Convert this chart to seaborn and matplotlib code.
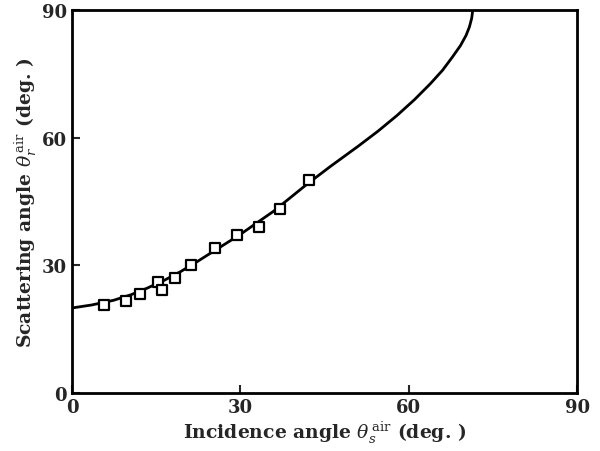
import numpy as np
import pandas as pd
import seaborn as sns
import matplotlib.pyplot as plt

# measured points (incidence, scattering), deg
inc_meas = [5.7, 9.6, 12.1, 15.4, 16.1, 18.3, 21.2, 25.5, 29.4, 33.4, 37.0, 42.3]
sca_meas = [20.6, 21.6, 23.2, 26.2, 24.3, 27.1, 30.1, 34.0, 37.2, 39.0, 43.3, 50.0]

# theory curve
inc_curve = [0, 3.5, 7.4, 10.5, 13.3, 16.3, 19.3, 22.2, 25.2, 29.9, 35.9, 41.8,
             46.0, 51.0, 54.5, 57.9, 61.0, 63.8, 66.0, 67.7, 69.2, 70.2, 70.8,
             71.2, 71.4]
sca_curve = [20.0, 20.7, 21.8, 23.1, 24.6, 26.4, 28.5, 30.8, 33.3, 37.2, 42.7, 49.0,
             53.2, 58.0, 61.5, 65.2, 68.9, 72.6, 75.8, 78.8, 81.6, 84.0, 86.0,
             88.0, 90.0]

ticks = [0, 30, 60, 90]

df_meas = pd.DataFrame({'inc': inc_meas, 'sca': sca_meas})
df_curve = pd.DataFrame({'inc': inc_curve, 'sca': sca_curve})

sns.set_style('ticks')
plt.rcParams['font.family'] = ['DejaVu Serif']
plt.rcParams['mathtext.fontset'] = 'dejavuserif'

fig = plt.figure(figsize=(6, 4.52), dpi=100)
ax = fig.add_axes([0.12, 0.128, 0.842, 0.848])

sns.lineplot(data=df_curve, x='inc', y='sca', sort=False, color='black', lw=2, ax=ax)
sns.scatterplot(data=df_meas, x='inc', y='sca', marker='s', s=55, facecolor='white',
                edgecolor='black', linewidth=1.6, zorder=3, ax=ax)

ax.set_xlim(0, 90)
ax.set_ylim(0, 90)
ax.set_xticks(ticks)
ax.set_yticks(ticks)
ax.tick_params(direction='in', length=6, width=1.5, labelsize=13)
for lab in ax.get_xticklabels() + ax.get_yticklabels():
    lab.set_fontweight('bold')
for sp in ax.spines.values():
    sp.set_linewidth(2)
    sp.set_color('black')

ax.set_xlabel(r'Incidence angle $\theta_s^{\,\mathrm{air}}$ (deg. )', fontsize=13.5,
              fontweight='bold', labelpad=2)
ax.set_ylabel(r'Scattering angle $\theta_r^{\,\mathrm{air}}$ (deg. )', fontsize=13.5,
              fontweight='bold', labelpad=2)

plt.savefig('out.png', dpi=100)
